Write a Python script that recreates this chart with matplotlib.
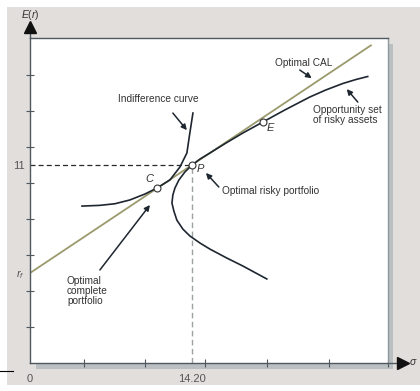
import matplotlib
matplotlib.use('Agg')
import matplotlib.pyplot as plt
from matplotlib.patches import Rectangle
from matplotlib.lines import Line2D

plt.rcParams['font.family'] = ['Liberation Sans', 'DejaVu Sans']
plt.rcParams['mathtext.fontset'] = 'custom'
plt.rcParams['mathtext.it'] = 'Liberation Sans:italic'
plt.rcParams['mathtext.rm'] = 'Liberation Sans'

# values (sigma, expected return)
rf = 5.0
p_sigma, p_ret = 14.2, 11.0
c_sigma, c_ret = 11.13, 9.72
e_sigma, e_ret = 20.42, 13.39

cal_sigma = [0.0, 14.2, 29.9]
cal_ret = [5.0, 11.0, 17.65]

opp_sigma = [20.77, 18.67, 17.27, 15.78, 14.90, 14.02, 13.41, 12.88, 12.62, 12.45,
             12.53, 12.71, 13.06, 13.58, 14.20, 14.90, 15.78, 17.18, 18.67, 20.42,
             22.35, 24.54, 25.94, 27.43, 28.57, 29.62]
opp_ret = [4.67, 5.39, 5.83, 6.33, 6.67, 7.06, 7.44, 7.94, 8.44, 8.89,
           9.33, 9.72, 10.17, 10.61, 11.00, 11.33, 11.67, 12.22, 12.78, 13.39,
           14.06, 14.78, 15.17, 15.53, 15.75, 15.92]

ind_sigma = [4.56, 6.13, 7.45, 8.76, 10.08, 11.13, 12.27, 13.15, 13.76, 14.02, 14.29]
ind_ret = [8.72, 8.76, 8.85, 9.06, 9.39, 9.72, 10.17, 10.89, 11.67, 12.78, 13.89]

x_ticks = [4.73, 10.08, 15.34, 20.77, 26.2, 31.4]
y_ticks = [2, 4, 6, 8, 10, 12, 14, 16]

dark = '#1e2630'
axis_col = '#4f585e'
text_col = '#333333'

fig = plt.figure(figsize=(4.2, 3.91), dpi=100, facecolor='white')
# gray page background and panel shadow
fig.patches.append(Rectangle((7 / 420, 6 / 391), 413 / 420, 378 / 391, transform=fig.transFigure,
                             facecolor='#e1dedc', edgecolor='none', zorder=-3))
fig.patches.append(Rectangle((36 / 420, 22 / 391), 357 / 420, 325 / 391, transform=fig.transFigure,
                             facecolor='#bac0c2', edgecolor='none', zorder=-2))
fig.lines.append(Line2D([0, 13 / 420], [20 / 391, 20 / 391], transform=fig.transFigure,
                        color='black', lw=0.8, zorder=-1))

ax = fig.add_axes([30 / 420, 28 / 391, 358 / 420, 325 / 391])
ax.set_facecolor('white')
ax.set_xlim(0, 31.38)
ax.set_ylim(0, 18.06)

for side in ['left', 'bottom', 'top']:
    ax.spines[side].set_color(axis_col)
    ax.spines[side].set_linewidth(1.0)
ax.spines['right'].set_color('#8f989c')
ax.spines['right'].set_linewidth(1.0)

# axis extensions with arrow heads
ax.plot([0, 0], [18.06, 18.4], color=axis_col, lw=1.0, clip_on=False)
ax.plot(0, 18.65, marker='^', ms=8, color='#111111', clip_on=False)
ax.plot([31.38, 32.4], [0, 0], color=axis_col, lw=1.0, clip_on=False)
ax.plot(32.75, 0, marker='>', ms=8, color='#111111', clip_on=False)

ax.set_xticks(x_ticks, labels=[''] * len(x_ticks))
ax.set_yticks(y_ticks, labels=[''] * len(y_ticks))
ax.tick_params(which='major', direction='inout', length=6, width=0.8, color=axis_col)
ax.set_xticks([0, p_sigma], labels=['0', '14.20'], minor=True)
ax.set_yticks([rf, p_ret], labels=['$r_f$', '11'], minor=True)
ax.tick_params(which='minor', length=0, labelsize=8, labelcolor='#555555')
ax.tick_params(axis='x', which='minor', pad=8)
ax.tick_params(axis='y', which='minor', pad=4)

ax.text(0, 19.35, '$E(r)$', ha='center', va='center', fontsize=7.5, color=text_col, clip_on=False)
ax.text(33.65, 0.05, r'$\sigma$', ha='center', va='center', fontsize=7.5, color=text_col, clip_on=False)

# guide lines through P
ax.plot([0, p_sigma], [p_ret, p_ret], color='#2a2a2a', lw=0.9, dashes=(4, 2.5))
ax.plot([p_sigma, p_sigma], [0, p_ret], color='#9ca1a4', lw=1.0, dashes=(4, 2.5))

# curves
ax.plot(cal_sigma, cal_ret, color='#9b9a6c', lw=1.3)
ax.plot(opp_sigma, opp_ret, color=dark, lw=1.2)
ax.plot(ind_sigma, ind_ret, color=dark, lw=1.2)

for sx, sy in [(c_sigma, c_ret), (p_sigma, p_ret), (e_sigma, e_ret)]:
    ax.plot(sx, sy, 'o', ms=5, mfc='white', mec='#333333', mew=0.8, zorder=5)

ax.text(10.43, 10.22, 'C', style='italic', fontsize=8, color=text_col, ha='center', va='center')
ax.text(14.95, 10.8, 'P', style='italic', fontsize=8, color=text_col, ha='center', va='center')
ax.text(21.05, 13.08, 'E', style='italic', fontsize=8, color=text_col, ha='center', va='center')

fs = 7.3
arrow = dict(arrowstyle='-|>', color=dark, lw=1.1, mutation_scale=8, shrinkA=0, shrinkB=0)
ax.text(24.0, 16.67, 'Optimal CAL', fontsize=fs, color=text_col, ha='center', va='center')
ax.annotate('', xy=(24.71, 15.83), xytext=(23.66, 16.28), arrowprops=arrow)
ax.text(24.8, 13.8, 'Opportunity set\nof risky assets', fontsize=fs, color=text_col,
        ha='left', va='center', linespacing=1.0)
ax.annotate('', xy=(27.78, 15.22), xytext=(28.75, 14.5), arrowprops=arrow)
ax.text(11.22, 14.67, 'Indifference curve', fontsize=fs, color=text_col, ha='center', va='center')
ax.annotate('', xy=(13.76, 12.94), xytext=(12.53, 13.89), arrowprops=arrow)
ax.text(16.83, 9.56, 'Optimal risky portfolio', fontsize=fs, color=text_col, ha='left', va='center')
ax.annotate('', xy=(15.43, 10.56), xytext=(16.56, 9.78), arrowprops=arrow)
ax.text(3.24, 4.0, 'Optimal\ncomplete\nportfolio', fontsize=fs, color=text_col,
        ha='left', va='center', linespacing=1.05)
ax.annotate('', xy=(10.52, 8.78), xytext=(6.13, 5.17), arrowprops=arrow)

fig.savefig('out.png', dpi=100, facecolor='white')
